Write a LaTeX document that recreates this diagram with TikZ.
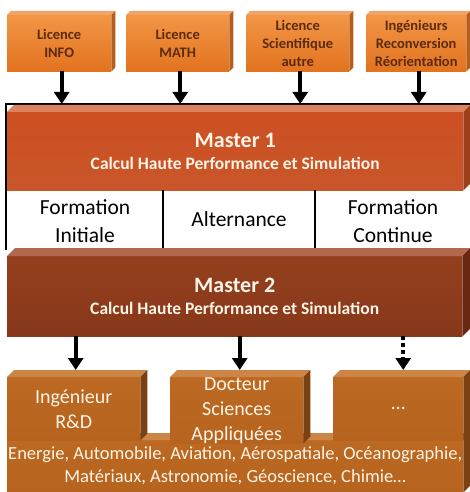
\documentclass[tikz,border=0pt]{standalone}
\usepackage{fontspec}
\setmainfont{Carlito}
\usetikzlibrary{calc,arrows.meta}
\definecolor{orTop}{HTML}{F29646}
\definecolor{orBot}{HTML}{E2731F}
\definecolor{orFace}{HTML}{F2A468}
\definecolor{orSide}{HTML}{B65E1C}
\definecolor{darkTxt}{HTML}{5C2A0C}
\definecolor{mOne}{HTML}{C8562A}
\definecolor{mOneTop}{HTML}{CD4F22}
\definecolor{mOneFace}{HTML}{DA8462}
\definecolor{mOneSide}{HTML}{9E3F1B}
\definecolor{mTwo}{HTML}{87371A}
\definecolor{mTwoTop}{HTML}{94401E}
\definecolor{mTwoFace}{HTML}{B2684C}
\definecolor{mTwoSide}{HTML}{6A2812}
\definecolor{brn}{HTML}{B5631E}
\definecolor{brnTop}{HTML}{BC6A22}
\definecolor{brnFace}{HTML}{CC8546}
\definecolor{brnSide}{HTML}{7C4113}
\definecolor{cream}{HTML}{FFF4E6}
\newcommand\boxfaces[4]{%
  \fill[#3] (#1.north west) -- ++(#2,-#2) -- ($(#1.north east)+(#2,-#2)$) -- (#1.north east) -- cycle;
  \fill[#4] (#1.north east) -- ++(#2,-#2) -- ($(#1.south east)+(#2,-#2)$) -- (#1.south east) -- cycle;}
\tikzset{
  base/.style={rectangle, inner sep=0pt, anchor=north west, align=center},
  licbox/.style={base, top color=orTop, bottom color=orBot, text=darkTxt,
    font=\fontsize{14.5}{18}\selectfont\bfseries},
  mastbox/.style={base, font=\fontsize{17.5}{21}\selectfont\bfseries, text=cream},
  jobbox/.style={base, top color=brnTop, bottom color=brn, text=cream,
    font=\fontsize{20}{25}\selectfont},
  formtxt/.style={align=center, font=\fontsize{21.5}{28}\selectfont},
  arr/.style={line width=4pt, -{Triangle[width=15pt,length=12pt]}},
  dasharr/.style={arr, dash pattern=on 4pt off 3pt},
}
\begin{document}
\begin{tikzpicture}[x=1pt,y=-1pt]
\useasboundingbox (0,0) rectangle (470,492);
\fill[white] (0,0) rectangle (470,492);
% top boxes
\node[licbox, minimum width=104pt, minimum height=56pt] (lic1) at (7,15) {Licence\\INFO};
\node[licbox, minimum width=103pt, minimum height=56pt] (lic2) at (126,15) {Licence\\MATH};
\node[licbox, minimum width=103pt, minimum height=56pt] (lic3) at (246,15) {Licence\\Scientifique\\autre};
\node[licbox, minimum width=100pt, minimum height=56pt] (lic4) at (366,15) {Ingénieurs\\Reconversion\\Réorientation};
\boxfaces{lic1}{4}{orFace}{orSide}
\boxfaces{lic2}{4}{orFace}{orSide}
\boxfaces{lic3}{4}{orFace}{orSide}
\boxfaces{lic4}{4}{orFace}{orSide}
% frame
\coordinate (frametop) at (0,104);
\draw[line width=1.5pt] (6,250) -- (6,104) -- (470,104);
% Master 1
\node[mastbox, top color=mOneTop, bottom color=mOne, minimum width=456pt, minimum height=78pt] (m1) at (7,112)
  {{\fontsize{22}{26}\selectfont Master 1}\\[1pt]Calcul Haute Performance et Simulation};
\boxfaces{m1}{7}{mOneFace}{mOneSide}
% formation row
\draw[line width=2pt] (163,190) -- (163,248);
\draw[line width=2pt] (315,190) -- (315,248);
\node[formtxt] (fi) at (85,221) {Formation\\Initiale};
\node[formtxt] (alt) at (239,219) {Alternance};
\node[formtxt] (fc) at (393,221) {Formation\\Continue};
% Master 2
\node[mastbox, top color=mTwoTop, bottom color=mTwo, minimum width=455pt, minimum height=80pt] (m2) at (7,256)
  {{\fontsize{22}{26}\selectfont Master 2}\\[1pt]Calcul Haute Performance et Simulation};
\boxfaces{m2}{8}{mTwoFace}{mTwoSide}
% bottom wide box
\node[base, top color=brnTop, bottom color=brn, text=cream, minimum width=456pt, minimum height=52pt,
  font=\fontsize{18.5}{23}\selectfont] (sect) at (7,440)
  {Energie, Automobile, Aviation, Aérospatiale, Océanographie,\\Matériaux, Astronomie, Géoscience, Chimie…};
\boxfaces{sect}{7}{brnFace}{brnSide}
% job boxes
\node[jobbox, minimum width=133pt, minimum height=63pt] (job1) at (7,377) {Ingénieur\\R\&D};
\node[jobbox, minimum width=133pt, minimum height=63pt] (job2) at (170,377) {Docteur\\Sciences\\Appliquées};
\node[jobbox, minimum width=130pt, minimum height=63pt] (job3) at (333,377) {…};
\boxfaces{job1}{7}{brnFace}{brnSide}
\boxfaces{job2}{7}{brnFace}{brnSide}
\boxfaces{job3}{7}{brnFace}{brnSide}
% arrows top
\draw[arr] ([xshift=2.5pt]lic1.south) -- ([xshift=2.5pt]lic1.south |- frametop);
\draw[arr] ([xshift=2.5pt]lic2.south) -- ([xshift=2.5pt]lic2.south |- frametop);
\draw[arr] ([xshift=2.5pt]lic3.south) -- ([xshift=2.5pt]lic3.south |- frametop);
\draw[arr] ([xshift=2.5pt]lic4.south) -- ([xshift=2.5pt]lic4.south |- frametop);
% arrows bottom
\draw[arr] ([xshift=2pt]job1.north |- m2.south) -- ([xshift=2pt,yshift=7pt]job1.north);
\draw[arr] ([xshift=3pt]job2.north |- m2.south) -- ([xshift=3pt,yshift=7pt]job2.north);
\draw[dasharr] ([xshift=5pt]job3.north |- m2.south) -- ([xshift=5pt,yshift=7pt]job3.north);
\end{tikzpicture}
\end{document}
